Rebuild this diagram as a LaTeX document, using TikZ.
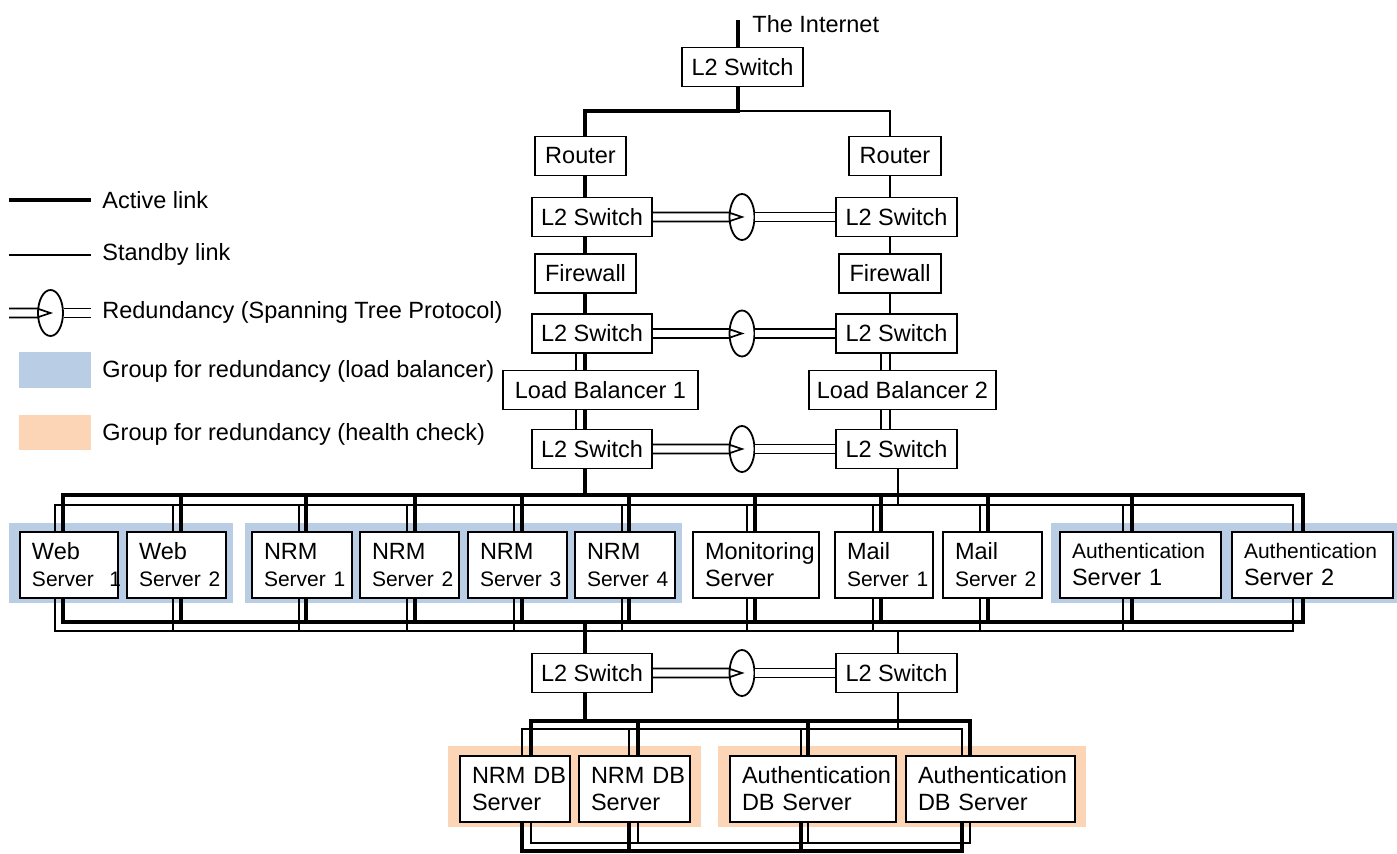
\documentclass[tikz,border=0pt]{standalone}
\usepackage{fontspec}
\setmainfont{Liberation Sans}
\usetikzlibrary{shapes.geometric}
\definecolor{lbblue}{RGB}{185,205,228}
\definecolor{hcpeach}{RGB}{251,213,181}
\hyphenpenalty=10000
\newcommand\lgfont{\fontsize{11.75pt}{13.5pt}\selectfont}
\newcommand\smfont{\fontsize{10.5pt}{12.5pt}\selectfont}
\newcommand\wdfont{\fontsize{11.75pt}{15pt}\selectfont}
\tikzset{
  box/.style={draw, line width=0.9pt, fill=white, font=\lgfont, inner sep=0pt, minimum height=19.5pt},
  srv/.style={draw, line width=0.9pt, fill=white, font=\lgfont, align=left, inner xsep=6pt, inner ysep=0pt, minimum height=33pt},
  ring/.style={draw, ellipse, line width=0.9pt, inner sep=0pt, minimum width=12.5pt, minimum height=23pt},
  active/.style={line width=2.1pt},
  standby/.style={line width=0.85pt},
  stplink/.style={standby, double, double distance=3.6pt},
  lbl/.style={font=\lgfont, anchor=west, inner sep=0pt},
}

\begin{document}
\begin{tikzpicture}
  \tikzset{x={(0.5pt,0pt)}, y={(0pt,-0.5pt)}}
  \useasboundingbox (0,0) rectangle (1397,854);

  % groups for redundancy
  \fill[lbblue] (9,523) rectangle (233,603);
  \fill[lbblue] (245,523) rectangle (682,603);
  \fill[lbblue] (1051,523) rectangle (1397,603);
  \fill[hcpeach] (448,746) rectangle (701,827);
  \fill[hcpeach] (718,746) rectangle (1086,827);

  % legend
  \coordinate (la1) at (9,200); \coordinate (la2) at (91,200);
  \coordinate (ls1) at (9,255); \coordinate (ls2) at (91,255);
  \coordinate (lr1) at (9,313); \coordinate (lr2) at (91,313);
  \draw[active] (la1) -- (la2);
  \draw[standby] (ls1) -- (ls2);
  \node[ring] (lring) at (50.5,313) {};
  \draw[standby] ([yshift=2.25pt]lr1) -- ([yshift=2.25pt]lr1 -| lring.west) -- (lring.center)
    -- ([yshift=-2.25pt]lr1 -| lring.west) -- ([yshift=-2.25pt]lr1);
  \draw[stplink] (lring.east) -- (lr2);
  \fill[lbblue] (19,352) rectangle (91,388);
  \fill[hcpeach] (19,415) rectangle (91,450);
  \node[lbl] (lact) at (102,200) {Active link};
  \node[lbl] (lsby) at (102,254) {Standby link};
  \node[lbl] (lstp) at (102,312) {Redundancy (Spanning Tree Protocol)};
  \node[lbl] (llb) at (102,371) {Group for redundancy (load balancer)};
  \node[lbl] (lhc) at (102,434) {Group for redundancy (health check)};

  % upper part
  \node[lbl] (inet) at (752,24) {The Internet};
  \coordinate (inetl) at (738,20);
  \node[box, minimum width=60.5pt] (sw0) at (742.5,67) {L2 Switch};
  \node[box, minimum width=45.5pt] (rt1) at (580.5,156) {Router};
  \node[box, minimum width=46pt] (rt2) at (895,156) {Router};
  \node[box, minimum width=60pt] (sw1a) at (592,217) {L2 Switch};
  \node[box, minimum width=60.5pt] (sw1b) at (896.5,217) {L2 Switch};
  \node[box, minimum width=50.5pt] (fw1) at (585.5,273.5) {Firewall};
  \node[box, minimum width=51pt] (fw2) at (890,273.5) {Firewall};
  \node[box, minimum width=60pt] (sw2a) at (592,333.5) {L2 Switch};
  \node[box, minimum width=60.5pt] (sw2b) at (896.5,333.5) {L2 Switch};
  \node[box, minimum width=97.5pt] (lb1) at (600.5,390) {Load Balancer 1};
  \node[box, minimum width=93.5pt] (lb2) at (902.5,390) {Load Balancer 2};
  \node[box, minimum width=60pt] (sw3a) at (592,449) {L2 Switch};
  \node[box, minimum width=60.5pt] (sw3b) at (896.5,449) {L2 Switch};
  \node[box, minimum width=60pt] (sw4a) at (592,673) {L2 Switch};
  \node[box, minimum width=60.5pt] (sw4b) at (896.5,673) {L2 Switch};

  % servers
  \node[srv, text width=37pt] (web1) at (69,565) {Web\\\smfont Server~~1};
  \node[srv, text width=37.5pt] (web2) at (176.5,565) {Web\\\smfont Server~2};
  \node[srv, text width=38pt] (nrm1) at (302,565) {NRM\\\smfont Server~1};
  \node[srv, text width=37.5pt] (nrm2) at (409.5,565) {NRM\\\smfont Server~2};
  \node[srv, text width=37.5pt] (nrm3) at (517.5,565) {NRM\\\smfont Server~3};
  \node[srv, text width=38pt] (nrm4) at (625,565) {NRM\\\smfont Server~4};
  \node[srv, text width=51pt] (mon) at (756,565) {Monitoring\\Server};
  \node[srv, text width=37pt] (mail1) at (884,565) {Mail\\\smfont Server~1};
  \node[srv, text width=37.5pt] (mail2) at (992.5,565) {Mail\\\smfont Server~2};
  \node[srv, text width=68.5pt] (auth1) at (1140.5,565) {\smfont Authentication\\\wdfont Server~1};
  \node[srv, text width=68.5pt] (auth2) at (1312.5,565) {\smfont Authentication\\\wdfont Server~2};

  \node[srv, text width=43pt] (db1) at (515,789) {NRM~DB\\Server};
  \node[srv, text width=43.5pt] (db2) at (634.5,789) {NRM~DB\\Server};
  \node[srv, text width=71pt] (db3) at (813,789) {Authentication\\DB~Server};
  \node[srv, text width=72.5pt] (db4) at (990.5,789) {Authentication\\DB~Server};

  % links of the upper part
  \coordinate (fork) at (738,111);
  \draw[active] (inetl) -- (inetl |- sw0.north);
  \draw[active] (fork |- sw0.south) -- (fork) -| (rt1.north -| 585,0);
  \draw[standby] (fork) -| (rt2.north -| 890,0);
  \foreach \a/\b in {rt1/sw1a, sw1a/fw1, fw1/sw2a, sw2a/lb1, lb1/sw3a}
    \draw[active] (\a.south -| 585,0) -- (\b.north -| 585,0);
  \foreach \a/\b in {rt2/sw1b, sw1b/fw2, fw2/sw2b, sw2b/lb2, lb2/sw3b}
    \draw[standby] (\a.south -| 890,0) -- (\b.north -| 890,0);
  \foreach \a/\b in {sw2a/lb1, lb1/sw3a}
    \draw[standby] (\a.south -| 576,0) -- (\b.north -| 576,0);
  \foreach \a/\b in {sw2b/lb2, lb2/sw3b}
    \draw[standby] (\a.south -| 881,0) -- (\b.north -| 881,0);

  % spanning tree between the switch pairs
  \foreach \l/\r/\e in {sw1a/sw1b/st1, sw2a/sw2b/st2, sw3a/sw3b/st3, sw4a/sw4b/st4} {
    \node[ring] (\e) at (742,0 |- \l) {};
    \draw[standby] ([yshift=2.25pt]\l.east) -- ([yshift=2.25pt]\l.east -| \e.west) -- (\e.center)
      -- ([yshift=-2.25pt]\l.east -| \e.west) -- ([yshift=-2.25pt]\l.east);
    \draw[stplink] (\e.east) -- (\r.west);
  }

  % server buses
  \coordinate (tbk) at (0,495); \coordinate (tbn) at (0,505);
  \coordinate (bbk) at (0,622); \coordinate (bbn) at (0,631);
  \draw[active] (sw3a.south -| 585,0) -- (585,0 |- tbk);
  \draw[standby] (sw3b.south -| 898,0) -- (898,0 |- tbn);
  \draw[active] (585,0 |- bbk) -- (sw4a.north -| 585,0);
  \draw[standby] (898,0 |- bbn) -- (sw4b.north -| 898,0);
  \draw[active] (63,0 |- web1.north) |- (1303,0 |- tbk) -- (1303,0 |- auth2.north);
  \draw[standby] (55,0 |- web1.north) |- (1293,0 |- tbn) -- (1293,0 |- auth2.north);
  \draw[active] (63,0 |- web1.south) |- (1303,0 |- bbk) -- (1303,0 |- auth2.south);
  \draw[standby] (55,0 |- web1.south) |- (1293,0 |- bbn) -- (1293,0 |- auth2.south);
  \foreach \n/\xn/\xk in {web2/173/181, nrm1/299/306, nrm2/407/415, nrm3/514/522, nrm4/622/629,
      mon/747/755, mail1/873/881, mail2/980/988, auth1/1123/1132} {
    \draw[standby] (\xn,0 |- \n.north) -- (\xn,0 |- tbn);
    \draw[active] (\xk,0 |- \n.north) -- (\xk,0 |- tbk);
    \draw[standby] (\xn,0 |- \n.south) -- (\xn,0 |- bbn);
    \draw[active] (\xk,0 |- \n.south) -- (\xk,0 |- bbk);
  }

  % database buses
  \coordinate (dtk) at (0,721); \coordinate (dtn) at (0,729);
  \coordinate (dbk) at (0,851); \coordinate (dbn) at (0,843);
  \draw[active] (sw4a.south -| 585,0) -- (585,0 |- dtk);
  \draw[standby] (sw4b.south -| 898,0) -- (898,0 |- dtn);
  \draw[active] (531,0 |- db1.north) |- (970,0 |- dtk) -- (970,0 |- db4.north);
  \draw[standby] (522,0 |- db1.north) |- (962,0 |- dtn) -- (962,0 |- db4.north);
  \draw[active] (522,0 |- db1.south) |- (962,0 |- dbk) -- (962,0 |- db4.south);
  \draw[standby] (531,0 |- db1.south) |- (970,0 |- dbn) -- (970,0 |- db4.south);
  \foreach \n/\xa/\xb in {db2/629/638, db3/801/808} {
    \draw[standby] (\xa,0 |- \n.north) -- (\xa,0 |- dtn);
    \draw[active] (\xb,0 |- \n.north) -- (\xb,0 |- dtk);
    \draw[active] (\xa,0 |- \n.south) -- (\xa,0 |- dbk);
    \draw[standby] (\xb,0 |- \n.south) -- (\xb,0 |- dbn);
  }
\end{tikzpicture}
\end{document}
